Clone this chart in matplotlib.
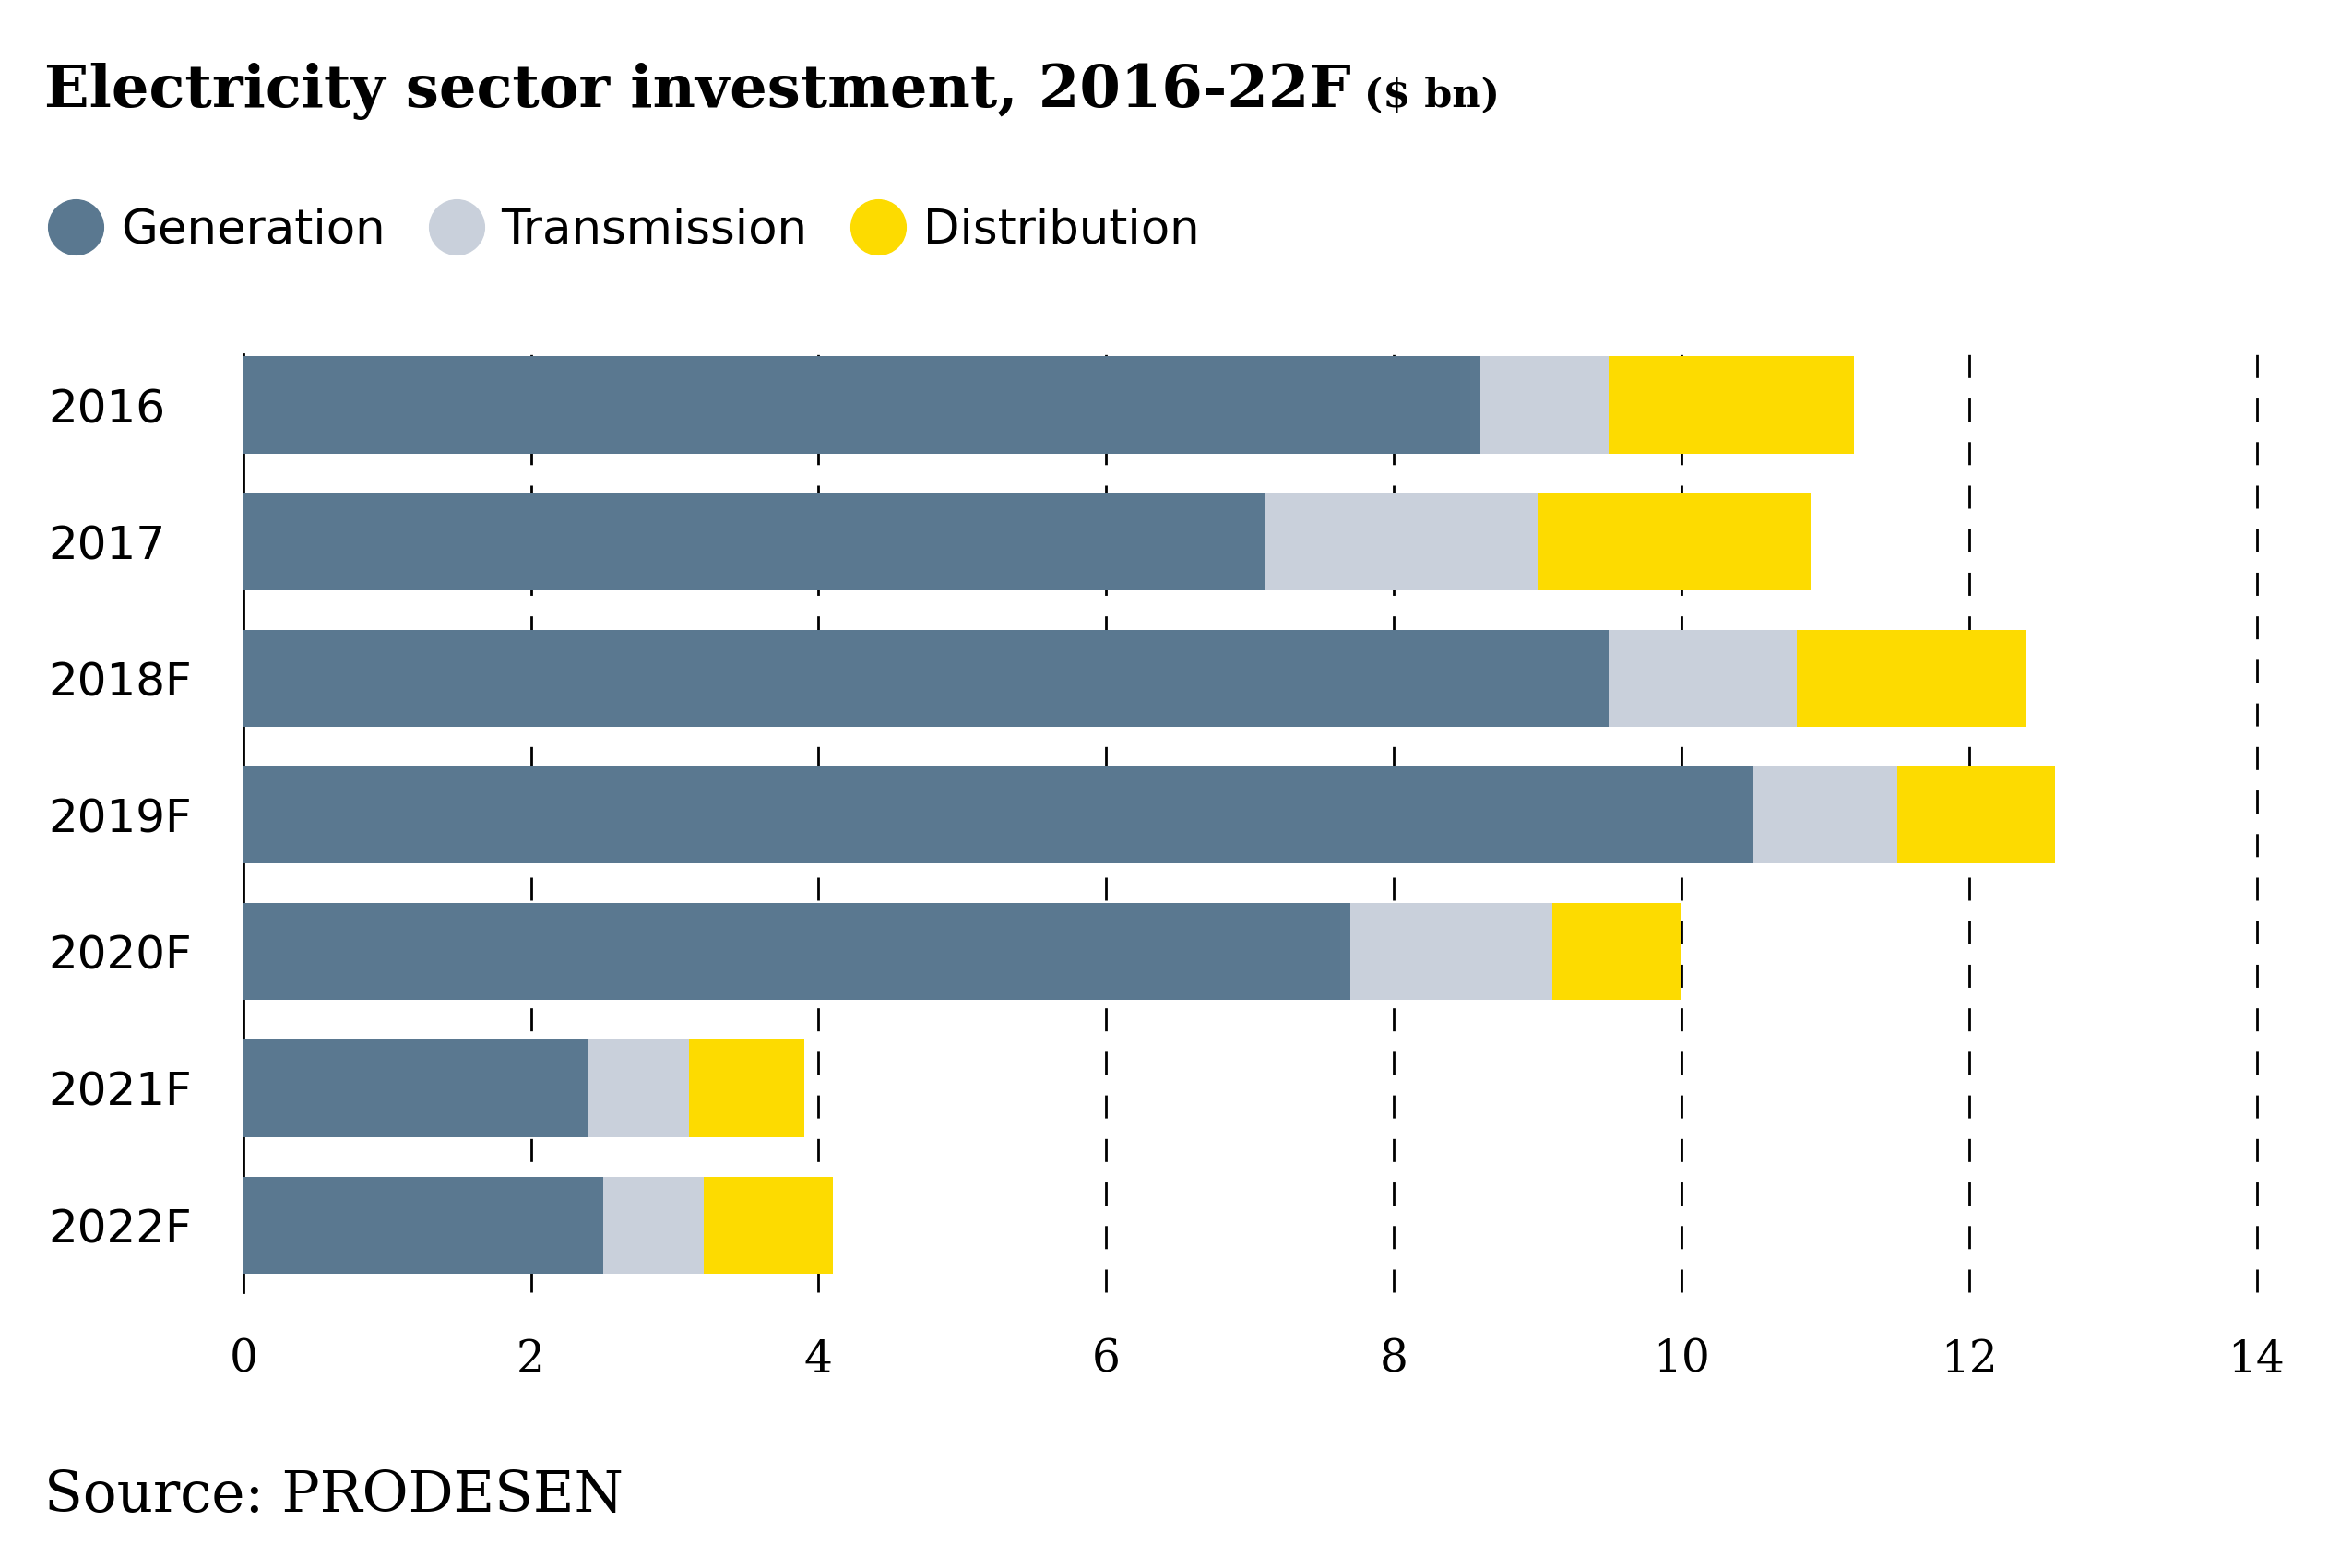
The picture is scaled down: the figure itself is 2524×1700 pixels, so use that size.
import matplotlib.pyplot as plt
from matplotlib.lines import Line2D

# Data ($ bn)
years = ['2016', '2017', '2018F', '2019F', '2020F', '2021F', '2022F']
generation = [8.6, 7.1, 9.5, 10.5, 7.7, 2.4, 2.5]
transmission = [0.9, 1.9, 1.3, 1.0, 1.4, 0.7, 0.7]
distribution = [1.7, 1.9, 1.6, 1.1, 0.9, 0.8, 0.9]
x_ticks = [0, 2, 4, 6, 8, 10, 12, 14]

c_gen = '#5a7890'
c_tr = '#c9d0db'
c_dist = '#fddb00'

SERIF = 'DejaVu Serif'
SANS = 'DejaVu Sans'

fig = plt.figure(figsize=(25.24, 17), dpi=100)
ax = fig.add_axes([0.1045, 0.176, 0.8648, 0.598])

y = list(range(len(years)))
h = 0.71
left2 = [g + t for g, t in zip(generation, transmission)]
ax.barh(y, generation, height=h, color=c_gen, zorder=3)
ax.barh(y, transmission, left=generation, height=h, color=c_tr, zorder=3)
ax.barh(y, distribution, left=left2, height=h, color=c_dist, zorder=3)

ax.set_xlim(0, 14)
ax.set_ylim(len(years) - 1 + 0.49, -0.37)

# dashed vertical gridlines
for xv in x_ticks[1:]:
    ax.axvline(xv, color='black', linewidth=2.0, dashes=(9, 8), zorder=1,
               clip_on=False)

for s in ['top', 'right', 'bottom']:
    ax.spines[s].set_visible(False)
ax.spines['left'].set_linewidth(2.0)
ax.spines['left'].set_color('black')

ax.set_xticks(x_ticks)
ax.set_xticklabels([str(v) for v in x_ticks], fontfamily=SERIF, fontsize=35)
ax.set_yticks(y)
ax.set_yticklabels(years, fontfamily=SANS, fontsize=36, ha='left')
ax.tick_params(axis='x', length=0, pad=36)
ax.tick_params(axis='y', length=0, pad=152)

# Title
t1 = fig.text(0.019, 0.932, 'Electricity sector investment, 2016-22F',
              fontfamily=SERIF, fontweight='bold', fontsize=46, va='baseline')
fig.canvas.draw()
bb = t1.get_window_extent()
x2 = (bb.x1 + 14) / fig.bbox.width
fig.text(x2, 0.932, '($ bn)', fontfamily=SERIF, fontweight='bold',
         fontsize=31, va='baseline')

# Legend
handles = [Line2D([], [], marker='o', linestyle='none', markersize=43, color=c)
           for c in [c_gen, c_tr, c_dist]]
fig.legend(handles, ['Generation', 'Transmission', 'Distribution'],
           loc='center left', bbox_to_anchor=(0.004, 0.853), ncol=3,
           frameon=False, prop={'family': SANS, 'size': 37},
           handletextpad=0.45, columnspacing=1.0, handlelength=1.0)

# Source
fig.text(0.019, 0.036, 'Source: PRODESEN', fontfamily=SERIF, fontsize=44,
         va='baseline')

fig.savefig('out.png', dpi=100)
